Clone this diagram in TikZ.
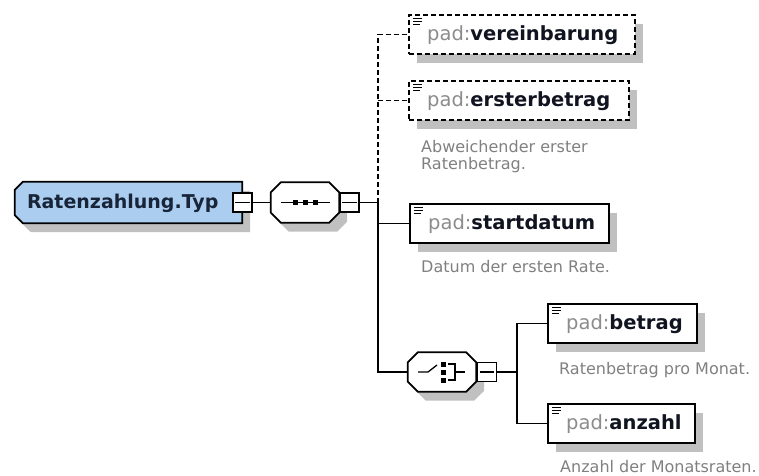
\documentclass[tikz,border=0pt]{standalone}
\usepackage{fontspec}
\setmainfont{DejaVu Sans}
\usetikzlibrary{shadows}
\definecolor{shadowc}{RGB}{192,192,192}
\definecolor{mainfill}{RGB}{171,205,239}
\definecolor{padc}{RGB}{140,140,140}
\definecolor{descc}{RGB}{128,128,128}
\definecolor{namec}{RGB}{16,20,32}
\definecolor{maintext}{RGB}{24,36,56}
\newcommand{\myocta}[2]{([xshift=#2]#1.north west) -- ([xshift=-#2]#1.north east) -- ([yshift=-#2]#1.north east) -- ([yshift=#2]#1.south east) -- ([xshift=-#2]#1.south east) -- ([xshift=#2]#1.south west) -- ([yshift=#2]#1.south west) -- ([yshift=-#2]#1.north west) -- cycle}
\newcommand{\myleftcham}[2]{([xshift=#2]#1.north west) -- (#1.north east) -- (#1.south east) -- ([xshift=#2]#1.south west) -- ([yshift=#2]#1.south west) -- ([yshift=-#2]#1.north west) -- cycle}
\tikzset{
  conn/.style={line width=1.5pt, black},
  dashedc/.style={dash pattern=on 5pt off 3pt},
  boxshadow/.style={drop shadow={shadow xshift=8pt, shadow yshift=-9pt, fill=shadowc, opacity=1}},
  elem/.style={draw=black, line width=1.8pt, fill=white, rectangle, inner sep=0pt,
    minimum height=39pt, anchor=north west, boxshadow,
    path picture={
      \draw[solid, line width=1pt] ([shift={(4.5pt,-3.5pt)}]path picture bounding box.north west) -- ++(9pt,0);
      \draw[solid, line width=1pt] ([shift={(4.5pt,-6.5pt)}]path picture bounding box.north west) -- ++(9pt,0);
      \draw[solid, line width=1pt] ([shift={(4.5pt,-9.5pt)}]path picture bounding box.north west) -- ++(7pt,0);
    }},
  nametext/.style={anchor=west, inner sep=0pt, font=\fontsize{19.5}{22}\selectfont, text=namec},
  desc/.style={anchor=north west, inner sep=0pt, align=left, font=\fontsize{16}{17}\selectfont, text=descc},
  place/.style={rectangle, inner sep=0pt},
  octa/.style={draw=black, line width=1.8pt, fill=white, boxshadow},
  minusbox/.style={draw=black, line width=1.6pt, fill=white, rectangle, inner sep=0pt, minimum size=19pt},
}
\begin{document}
\begin{tikzpicture}[x=1pt,y=-1pt]
\useasboundingbox (0,0) rectangle (759,475);

% main type box
\node[place, minimum width=227pt, minimum height=41pt] (main) at (128.5,202.5) {};
\path[octa, fill=mainfill] \myleftcham{main}{8pt};
\node[anchor=west, inner sep=0pt, font=\fontsize{19}{21}\selectfont\bfseries, text=maintext]
  (mainT) at ([xshift=12pt,yshift=-1pt]main.west) {Ratenzahlung.Typ};
\node[minusbox] (m1) at (242.5,202.5) {};
\draw[line width=1.3pt] ([xshift=3pt]m1.west) -- ([xshift=-3pt]m1.east);

% sequence compositor
\node[place, minimum width=68pt, minimum height=40pt] (seq) at (305,202.5) {};
\path[octa] \myocta{seq}{10pt};
\draw[line width=1.3pt] ([xshift=10pt]seq.west) -- ([xshift=-9pt]seq.east);
\begin{scope}[shift={(seq.center)}]
  \fill (-12.5,-2.5) rectangle (-7.5,2.5);
  \fill (-2.5,-2.5) rectangle (2.5,2.5);
  \fill (7.5,-2.5) rectangle (12.5,2.5);
\end{scope}
\node[minusbox] (m2) at (349.5,202.5) {};
\draw[line width=1.3pt] ([xshift=3pt]m2.west) -- ([xshift=-3pt]m2.east);

% elements
\node[elem, dashedc, minimum width=226pt] (verein) at (408,14) {};
\node[nametext] (vereinT) at ([xshift=19pt,yshift=-1pt]verein.west) {\textcolor{padc}{pad:}\textbf{vereinbarung}};

\node[elem, dashedc, minimum width=220pt] (ersterb) at (408,80) {};
\node[nametext] (ersterbT) at ([xshift=19pt,yshift=-1pt]ersterb.west) {\textcolor{padc}{pad:}\textbf{ersterbetrag}};
\node[desc] (ersterbD) at (421,140) {Abweichender erster\\Ratenbetrag.};

\node[elem, minimum width=199pt] (startd) at (409,203) {};
\node[nametext] (startdT) at ([xshift=19pt,yshift=-1pt]startd.west) {\textcolor{padc}{pad:}\textbf{startdatum}};
\node[desc] (startdD) at (421,260) {Datum der ersten Rate.};

% choice compositor
\node[place, minimum width=68pt, minimum height=39pt] (choice) at (442,372) {};
\path[octa] \myocta{choice}{10pt};
\begin{scope}[shift={(choice.center)}]
  \draw[line width=1.3pt] (-24,0) -- (-14,0) -- (-5,-7);
  \fill (-1,-10.5) rectangle (4,-5.5);
  \fill (-1,-2.5) rectangle (4,2.5);
  \fill (-1,5.5) rectangle (4,10.5);
  \draw[line width=1.3pt] (6,-8) -- (13,-8) -- (13,8) -- (6,8);
  \draw[line width=1.3pt] (13,0) -- (23,0);
\end{scope}
\node[minusbox] (m3) at (487,372) {};
\draw[line width=1.3pt] ([xshift=3pt]m3.west) -- ([xshift=-3pt]m3.east);

\node[elem, minimum width=149pt] (betrag) at (547,303) {};
\node[nametext] (betragT) at ([xshift=19pt,yshift=-1pt]betrag.west) {\textcolor{padc}{pad:}\textbf{betrag}};
\node[desc] (betragD) at (559,362) {Ratenbetrag pro Monat.};

\node[elem, minimum width=147pt] (anzahl) at (547,403) {};
\node[nametext] (anzahlT) at ([xshift=19pt,yshift=-1pt]anzahl.west) {\textcolor{padc}{pad:}\textbf{anzahl}};
\node[desc] (anzahlD) at (560,460) {Anzahl der Monatsraten.};

% connectors
\coordinate (tr) at (378,202.5);
\coordinate (ch) at (517,372);
\draw[conn] (m1.east) -- (seq.west);
\draw[conn] (m2.east) -- (tr);
\draw[conn, dashedc] (tr) |- (verein.west);
\draw[conn, dashedc] (tr |- ersterb.west) -- (ersterb.west);
\draw[conn] (tr) |- (startd.west);
\draw[conn] (tr) |- (choice.west);
\draw[conn] (m3.east) -- (ch);
\draw[conn] (ch) |- (betrag.west);
\draw[conn] (ch) |- (anzahl.west);
\end{tikzpicture}
\end{document}
